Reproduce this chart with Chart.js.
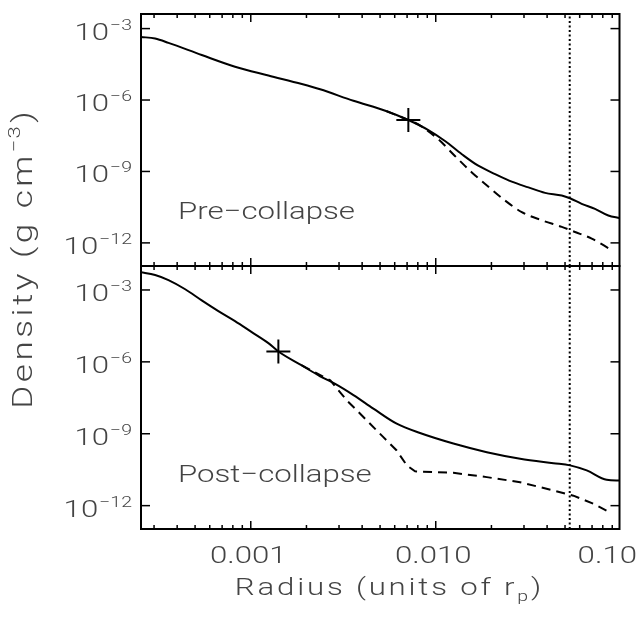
<!DOCTYPE html>
<html>
<head>
<meta charset="utf-8">
<script src="https://cdn.jsdelivr.net/npm/chart.js@4.4.1/dist/chart.umd.min.js"></script>
<style>
  body { margin: 0; background: #fff; }
  #wrap { position: relative; width: 643px; height: 620px; background: #fff; }
  #wrap canvas { position: absolute; left: 0; top: 0; }
</style>
</head>
<body>
<div id="wrap">
  <canvas id="pre" width="643" height="620"></canvas>
  <canvas id="post" width="643" height="620"></canvas>
</div>
<script>
// axis ranges
const xMin = 2.55e-4, xMax = 0.0985;
const preYMin = 1.07e-13, preYMax = 4.1e-3;
const postYMin = 1.06e-13, postYMax = 1.0e-2;

// tick labels
const xTickValues = [0.001, 0.01, 0.1];
const xTickLabels = ['0.001', '0.010', '0.10'];
const yTickValues = [1e-3, 1e-6, 1e-9, 1e-12];
const yTickExp = ['\u22123', '\u22126', '\u22129', '\u221212'];

// pre-collapse panel
const preR = [2.55e-4, 3.04e-4, 3.59e-4, 5.43e-4, 8.22e-4, 1.245e-3, 1.888e-3, 2.371e-3, 3.589e-3, 5.433e-3,
              7.11e-3, 9.12e-3, 1.122e-2, 1.384e-2, 1.698e-2, 2.094e-2, 2.576e-2, 3.17e-2, 3.9e-2, 4.8e-2,
              5.32e-2, 6.15e-2, 7.26e-2, 8.57e-2, 9.85e-2];
const preSolid = [4.47e-4, 3.8e-4, 2.51e-4, 7.76e-5, 2.51e-5, 1.07e-5, 4.68e-6, 2.82e-6, 9.3e-7, 3.39e-7,
                  1.45e-7, 5.46e-8, 1.9e-8, 5.3e-9, 1.74e-9, 7.76e-10, 3.72e-10, 2.14e-10, 1.26e-10, 9.8e-11,
                  7.5e-11, 4.37e-11, 2.69e-11, 1.41e-11, 1.1e-11];
const preDashR = [5.433e-3, 7.11e-3, 8.05e-3, 1.033e-2, 1.27e-2, 1.567e-2, 1.85e-2, 2.37e-2, 2.92e-2, 3.74e-2,
                  4.8e-2, 5.66e-2, 6.97e-2, 8.75e-2];
const preDashed = [3.39e-7, 1.45e-7, 9.44e-8, 2.24e-8, 4.47e-9, 9.1e-10, 2.99e-10, 6.0e-11, 1.95e-11, 8.9e-12,
                   4.7e-12, 2.88e-12, 1.51e-12, 5.5e-13];
const preCross = [7.11e-3, 1.45e-7];

// post-collapse panel
const postR = [2.52e-4, 3.04e-4, 3.59e-4, 4.42e-4, 5.43e-4, 6.68e-4, 8.22e-4, 1.012e-3, 1.245e-3, 1.41e-3,
               1.888e-3, 2.371e-3, 2.86e-3, 3.59e-3, 4.6e-3, 6.15e-3, 8.22e-3, 1.245e-2, 1.888e-2, 2.86e-2,
               4.33e-2, 5.32e-2, 6.55e-2, 8.4e-2, 9.85e-2];
const postSolid = [5.6e-3, 4.2e-3, 2.57e-3, 1.07e-3, 3.7e-4, 1.32e-4, 5.05e-5, 1.75e-5, 6.05e-6, 2.72e-6,
                   7.1e-7, 2.5e-7, 1.2e-7, 4.1e-8, 1.12e-8, 2.63e-9, 1.07e-9, 3.9e-10, 1.7e-10, 9.1e-11,
                   5.9e-11, 4.8e-11, 2.95e-11, 1.2e-11, 1.12e-11];
const postDashR = [1.888e-3, 2.69e-3, 3.3e-3, 4.24e-3, 5.21e-3, 6.15e-3, 6.97e-3, 7.73e-3, 1.245e-2, 1.888e-2,
                   2.86e-2, 4.33e-2, 5.55e-2, 7.11e-2, 8.93e-2];
const postDashed = [7.1e-7, 1.7e-7, 2.5e-8, 3.6e-9, 7.2e-10, 2.0e-10, 4.8e-11, 2.7e-11, 2.34e-11, 1.55e-11,
                    9.5e-12, 4.3e-12, 2.6e-12, 1.2e-12, 4.8e-13];
const postCross = [1.41e-3, 2.72e-6];

// vertical dotted line
const tidalR = 0.053;

const FONT = 'Roboto, "DejaVu Sans", sans-serif';
const STRETCH = 1.3;
const INK = '#444';

function pts(xs, ys) {
  return xs.map((x, i) => ({ x: x, y: ys[i] }));
}

function setFont(ctx, size) {
  ctx.font = '300 ' + size + 'px ' + FONT;
}

// width of widened text, gap = extra px after each char
function textWidth(ctx, s, size, gap) {
  setFont(ctx, size);
  let w = ctx.measureText(s).width * STRETCH;
  if (gap) w += gap * (s.length - 1);
  return w;
}

// draw horizontally widened text, returns its width
function txt(ctx, s, x, y, size, align, gap) {
  gap = gap || 0;
  const w = textWidth(ctx, s, size, gap);
  let x0 = x;
  if (align === 'right') x0 = x - w;
  if (align === 'center') x0 = x - w / 2;
  ctx.save();
  setFont(ctx, size);
  ctx.textAlign = 'left';
  ctx.textBaseline = 'alphabetic';
  ctx.fillStyle = INK;
  if (!gap) {
    ctx.translate(x0, y);
    ctx.scale(STRETCH, 1);
    ctx.fillText(s, 0, 0);
  } else {
    let cx = x0;
    for (const ch of s) {
      ctx.save();
      ctx.translate(cx, y);
      ctx.scale(STRETCH, 1);
      ctx.fillText(ch, 0, 0);
      ctx.restore();
      cx += ctx.measureText(ch).width * STRETCH + gap;
    }
  }
  ctx.restore();
  return w;
}

function seg(ctx, x1, y1, x2, y2) {
  ctx.beginPath();
  ctx.moveTo(x1, y1);
  ctx.lineTo(x2, y2);
  ctx.stroke();
}

// frame, inward ticks and all labels
const deco = {
  id: 'deco',
  afterDraw(chart, args, opts) {
    const ctx = chart.ctx;
    const a = chart.chartArea;
    const xs = chart.scales.x, ys = chart.scales.y;
    ctx.save();
    ctx.strokeStyle = '#000';
    ctx.lineWidth = 2;
    ctx.strokeRect(a.left, a.top, a.right - a.left, a.bottom - a.top);

    ctx.lineWidth = 1.5;
    yTickValues.forEach((v, i) => {
      const py = ys.getPixelForValue(v);
      seg(ctx, a.left, py, a.left + 9, py);
      seg(ctx, a.right, py, a.right - 9, py);
      const sw = txt(ctx, yTickExp[i], a.left - 9, py + 1, 15, 'right');
      txt(ctx, '10', a.left - 10 - sw, py + 11, 24, 'right');
    });

    for (let d = -4; d <= -1; d++) {
      for (let m = 1; m <= 9; m++) {
        const v = m * Math.pow(10, d);
        if (v < xs.min || v > xs.max * 1.001) continue;
        const px = xs.getPixelForValue(v);
        const len = m === 1 ? 8 : 4;
        seg(ctx, px, a.top, px, a.top + len);
        seg(ctx, px, a.bottom, px, a.bottom - len);
      }
    }

    txt(ctx, opts.label, a.left + 37, a.bottom - 47, 24, 'left');

    if (opts.xLabels) {
      xTickValues.forEach((v, i) => {
        let cx = xs.getPixelForValue(v) - 2.5;
        const half = textWidth(ctx, xTickLabels[i], 24, 0) / 2;
        if (cx + half > 637) cx = 637 - half;
        txt(ctx, xTickLabels[i], cx, 563, 24, 'center');
      });
      // x title with subscript
      const g = 2.8;
      const w1 = textWidth(ctx, 'Radius (units of r', 24, g);
      const w2 = textWidth(ctx, 'p', 15, 0);
      const w3 = textWidth(ctx, ')', 24, 0);
      let x0 = 388 - (w1 + w2 + w3 + 2 * g) / 2;
      x0 += txt(ctx, 'Radius (units of r', x0, 595, 24, 'left', g) + g;
      x0 += txt(ctx, 'p', x0, 601, 15, 'left') + g;
      txt(ctx, ')', x0, 595, 24, 'left');
    }

    if (opts.yTitle) {
      ctx.save();
      ctx.translate(32, 260);
      ctx.rotate(-Math.PI / 2);
      const g = 3.5;
      const a1 = textWidth(ctx, 'Density (g cm', 27, g);
      const a2 = textWidth(ctx, '\u22123', 17, 1);
      const a3 = textWidth(ctx, ')', 27, 0);
      let t0 = -(a1 + a2 + a3 + 2 * g) / 2;
      t0 += txt(ctx, 'Density (g cm', t0, 0, 27, 'left', g) + g;
      t0 += txt(ctx, '\u22123', t0, -12, 17, 'left', 1) + g;
      txt(ctx, ')', t0, 0, 27, 'left');
      ctx.restore();
    }
    ctx.restore();
  }
};

function makePanel(id, cfg) {
  const ctx = document.getElementById(id).getContext('2d');
  return new Chart(ctx, {
    type: 'line',
    data: {
      datasets: [
        { data: pts(cfg.dashR, cfg.dashed), borderColor: '#000', borderWidth: 2, borderDash: [9, 6], pointRadius: 0, fill: false,
          cubicInterpolationMode: cfg.dashSmooth ? 'monotone' : 'default' },
        { data: pts(cfg.r, cfg.solid), borderColor: '#000', borderWidth: 2, pointRadius: 0, fill: false,
          cubicInterpolationMode: 'monotone' },
        { data: [{ x: tidalR, y: cfg.yMin }, { x: tidalR, y: cfg.yMax }], borderColor: '#000', borderWidth: 2, borderDash: [2, 2.5], pointRadius: 0 },
        { data: [{ x: cfg.cross[0], y: cfg.cross[1] }], showLine: false, pointStyle: 'cross', pointRadius: 12, borderColor: '#000', borderWidth: 2 }
      ]
    },
    options: {
      responsive: false,
      animation: false,
      events: [],
      layout: { padding: cfg.padding },
      scales: {
        x: { type: 'logarithmic', min: xMin, max: xMax, display: false },
        y: { type: 'logarithmic', min: cfg.yMin, max: cfg.yMax, display: false }
      },
      plugins: {
        legend: { display: false },
        tooltip: { enabled: false },
        deco: cfg.deco
      }
    },
    plugins: [deco]
  });
}

makePanel('pre', {
  r: preR, solid: preSolid, dashR: preDashR, dashed: preDashed, cross: preCross, dashSmooth: true,
  yMin: preYMin, yMax: preYMax,
  padding: { left: 141, right: 23.5, top: 12, bottom: 354 },
  deco: { label: 'Pre\u2212collapse', yTitle: true, xLabels: false }
});

makePanel('post', {
  r: postR, solid: postSolid, dashR: postDashR, dashed: postDashed, cross: postCross, dashSmooth: false,
  yMin: postYMin, yMax: postYMax,
  padding: { left: 141, right: 23.5, top: 266, bottom: 91 },
  deco: { label: 'Post\u2212collapse', yTitle: false, xLabels: true }
});
</script>
</body>
</html>
